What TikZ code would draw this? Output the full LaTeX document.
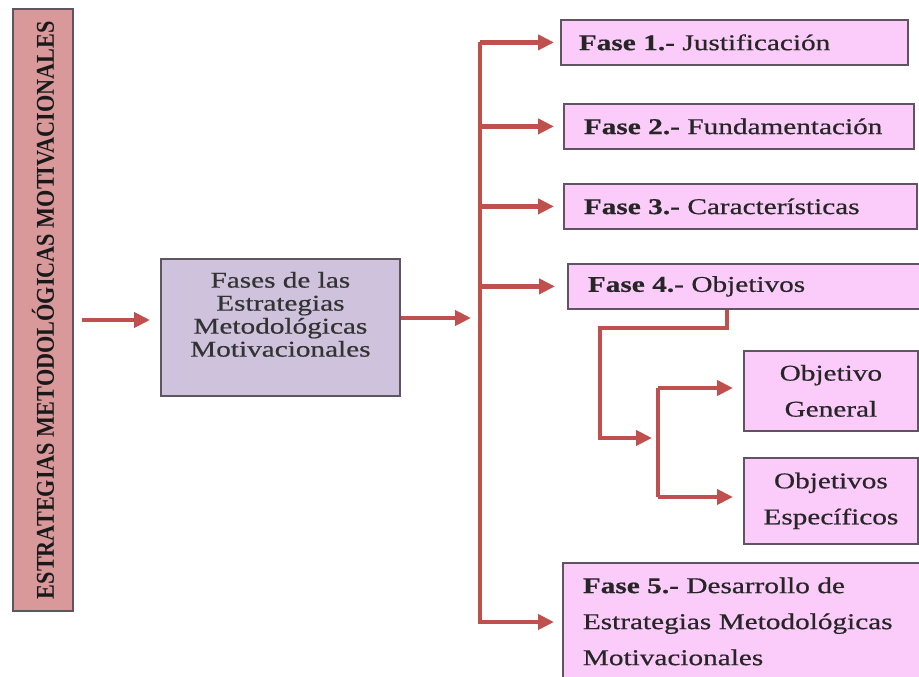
\documentclass[tikz,border=0pt]{standalone}
\usepackage{fontspec}
\setmainfont{Liberation Serif}
\newfontfamily\wserif[FakeStretch=1.3,FakeBold=0.6]{Liberation Serif}
\usetikzlibrary{arrows.meta,calc}
\definecolor{arrc}{HTML}{C0504D}
\definecolor{pinkf}{HTML}{FBCBFA}
\definecolor{lavf}{HTML}{CFC2DC}
\definecolor{salm}{HTML}{D9999B}
\definecolor{bord}{HTML}{5E5560}
\tikzset{
  conn/.style={draw=arrc, line width=4.8pt},
  arr/.style={conn, -{Triangle[length=16pt,width=15pt]}},
  fasebox/.style={draw=bord, line width=1.8pt, fill=pinkf, anchor=north west,
     font=\wserif\fontsize{22.5}{36}\selectfont, text=black!85, align=left},
  objbox/.style={draw=bord, line width=1.8pt, fill=pinkf, anchor=north west,
     font=\wserif\fontsize{22.5}{36}\selectfont, text=black!85, align=center, inner sep=0pt},
}
\begin{document}
\begin{tikzpicture}[x=1pt,y=-1pt]
\useasboundingbox (0,0) rectangle (919,677);
% left box
\node[draw=bord, line width=2.2pt, fill=salm, anchor=north west, minimum width=60pt, minimum height=602pt, inner sep=0pt] (L) at (12,8) {};
\node[rotate=90, inner sep=0pt, text=black!90] (Lt) at (L.center) {\resizebox{578pt}{22pt}{\bfseries ESTRATEGIAS METODOLÓGICAS MOTIVACIONALES}};
% middle box
\node[draw=bord, line width=1.8pt, fill=lavf, anchor=north west, minimum width=239pt, minimum height=137pt, inner sep=0pt] (M) at (160,258) {};
\node[align=center, inner sep=0pt, font=\wserif\fontsize{22.5}{23}\selectfont, text=black!80] (Mt) at ($(M.center)+(0,-13)$)
      {Fases de las\\Estrategias\\Metodológicas\\Motivacionales};
% fase boxes
\node[fasebox, minimum width=347pt, minimum height=45pt, text width=311pt, inner xsep=18pt] (f1) at (560,19) {\textbf{Fase 1.-} Justificación};
\node[fasebox, minimum width=350pt, minimum height=45pt, text width=310pt, inner xsep=20pt] (f2) at (563,103) {\textbf{Fase 2.-} Fundamentación};
\node[fasebox, minimum width=353pt, minimum height=45pt, text width=313pt, inner xsep=20pt] (f3) at (563,183) {\textbf{Fase 3.-} Características};
\node[fasebox, minimum width=352pt, minimum height=45pt, text width=312pt, inner xsep=20pt] (f4) at (567,263) {\textbf{Fase 4.-} Objetivos};
\node[fasebox, minimum width=357pt, minimum height=117pt, text width=318pt, inner xsep=20pt] (f5) at (562,562)
      {\textbf{Fase 5.-} Desarrollo de\\Estrategias Metodológicas\\Motivacionales};
\node[objbox, minimum width=174pt, minimum height=80pt] (og) at (743,350) {Objetivo\\General};
\node[objbox, minimum width=174pt, minimum height=86pt] (oe) at (743,457) {Objetivos\\Específicos};
% connectors
\draw[arr, shorten <=8pt, shorten >=10pt] (L.east |- 0,320) -- (M.west |- 0,320);
\coordinate (tr) at (480,318);
\draw[arr, shorten >=9pt] (M.east |- tr) -- (tr);
\draw[conn] (tr |- f1.west) -- (tr |- 0,624);
\draw[arr, shorten >=6pt] (tr |- f1.west) -- (f1.west);
\draw[arr, shorten >=9pt] (tr |- f2.west) -- (f2.west);
\draw[arr, shorten >=9pt] (tr |- f3.west) -- (f3.west);
\draw[arr, shorten >=12pt] (tr |- f4.west) -- (f4.west);
\draw[arr, shorten >=8pt] (tr |- 0,622) -- (f5.west |- 0,622);
% objetivos subtree
\coordinate (b1) at (727,328);
\coordinate (b2) at (600,438);
\coordinate (bt) at (658,438);
\draw[arr, shorten >=6pt] (f4.south -| b1) -- (b1) -| (b2) -- (bt);
\draw[conn] (bt |- 0,388) -- (bt |- 0,497);
\draw[arr, shorten >=10pt] (bt |- 0,388) -- (og.west |- 0,388);
\draw[arr, shorten >=10pt] (bt |- 0,497) -- (oe.west |- 0,497);
\end{tikzpicture}
\end{document}
